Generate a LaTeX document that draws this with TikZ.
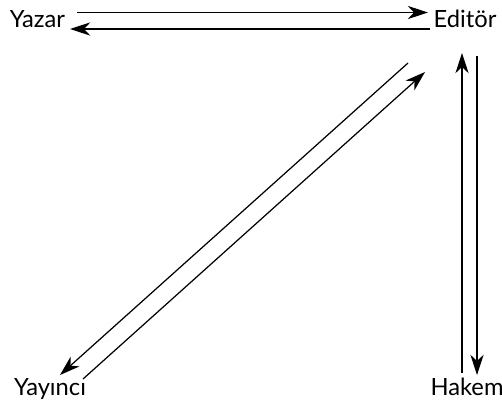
\documentclass[tikz,border=0pt]{standalone}
\usepackage{fontspec}
\setmainfont{Lato}
\usepackage{tikz}
\usetikzlibrary{arrows.meta}

\begin{document}
\begin{tikzpicture}[
    x=0.02cm, y=-0.02cm,
    actor/.style={anchor=base, inner sep=0pt, font=\fontsize{13.5}{16}\selectfont},
    arrow/.style={-{Stealth[length=11.5pt, width=7.5pt, inset=3.5pt]}, line width=0.7pt}
]
    \useasboundingbox (0,0) rectangle (502,412);

    \node[actor] (yazar) at (37.5,28) {Yazar};
    \node[actor] (editor) at (465,28) {Editör};
    \node[actor] (yayinci) at (50,395) {Yayıncı};
    \node[actor] (hakem) at (467,395) {Hakem};

    \draw[arrow] ([shift={(39.5,-15.5)}]yazar.base) -- ([shift={(-37,-15.5)}]editor.base);
    \draw[arrow] ([shift={(-35,1)}]editor.base) -- ([shift={(32.5,1)}]yazar.base);

    \draw[arrow] ([shift={(-5,-22)}]hakem.base) -- ([shift={(-3,25)}]editor.base);
    \draw[arrow] ([shift={(12,28)}]editor.base) -- ([shift={(10,-20)}]hakem.base);

    \draw[arrow] ([shift={(-57,35)}]editor.base) -- ([shift={(10,-20)}]yayinci.base);
    \draw[arrow] ([shift={(33,-16)}]yayinci.base) -- ([shift={(-40,44)}]editor.base);
\end{tikzpicture}
\end{document}
